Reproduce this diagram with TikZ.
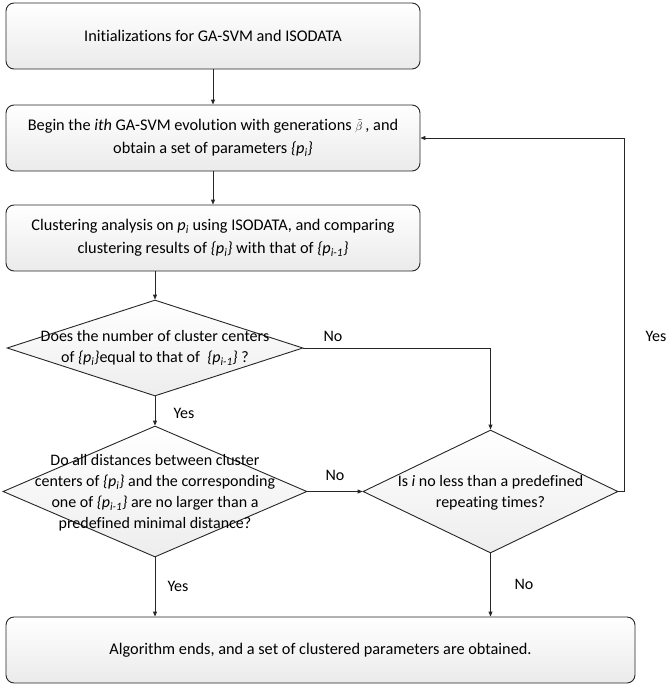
\documentclass[tikz,border=0pt]{standalone}
\usepackage{fontspec}
\setmainfont[Ligatures={NoCommon}]{Carlito}
\usetikzlibrary{shapes.geometric,arrows.meta}
\newcommand\pset[1]{\textit{\{p\textsubscript{#1}\}}}
\begin{document}
\begin{tikzpicture}[x=1pt,y=-1pt,
  box/.style={draw=black!85, line width=0.9pt, rounded corners=8pt, top color=white, bottom color=black!8,
    inner sep=0pt, align=center, font=\fontsize{16.3}{23}\selectfont},
  dia/.style={diamond, draw=black!85, line width=0.9pt, top color=white, bottom color=black!7, inner sep=0pt},
  dtxt/.style={align=center, font=\fontsize{16}{21}\selectfont, inner sep=0pt},
  lbl/.style={font=\fontsize{16}{18}\selectfont, inner sep=0pt},
  arr/.style={draw=black!85, line width=0.9pt, -{Triangle[length=5pt,width=4pt]}}
]
\useasboundingbox (0,0) rectangle (667,686);

\node[box, minimum width=414pt, minimum height=66pt] (b1) at (213,36) {Initializations for GA-SVM and ISODATA};
\node[box, minimum width=414pt, minimum height=66pt] (b2) at (213,138) {Begin the \textit{ith} GA-SVM evolution with generations {\fontsize{12}{12}\selectfont$\tilde{\beta}$}\,, and\\obtain a set of parameters \pset{i}};
\node[box, minimum width=414pt, minimum height=66pt] (b3) at (213,238) {Clustering analysis on \textit{p\textsubscript{i}} using ISODATA, and comparing\\clustering results of \pset{i} with that of \pset{i-1}};

\node[dia, minimum width=296pt, minimum height=96pt] (d1) at (155,348) {};
\node[dtxt] (d1t) at (d1.center) {Does the number of cluster centers\\of \pset{i}equal to that of~ \pset{i-1} ?};

\node[dia, minimum width=304pt, minimum height=131pt] (d2) at (155,491.5) {};
\node[dtxt] (d2t) at (155,493) {Do all distances between cluster\\centers of \pset{i} and the corresponding\\one of \pset{i-1} are no larger than a\\predefined minimal distance?};

\node[dia, minimum width=255pt, minimum height=123pt] (d3) at (490.5,491.5) {};
\node[dtxt] (d3t) at (490.5,492.5) {Is \textit{i} no less than a predefined\\repeating times?};

\node[box, minimum width=629pt, minimum height=66pt] (b4) at (320.5,650) {Algorithm ends, and a set of clustered parameters are obtained.};

\coordinate (c1) at (624,138);

\draw[arr] (b1.south) -- (b2.north);
\draw[arr] (b2.south) -- (b3.north);
\draw[arr] (b3.south -| d1.north) -- (d1.north);
\draw[arr] (d1.south) -- (d2.north);
\draw[arr] (d1.east) -| (d3.north);
\draw[arr] (d2.east) -- (d3.west);
\draw[arr] (d2.south) -- (d2.south |- b4.north);
\draw[arr] (d3.south) -- (d3.south |- b4.north);
\draw[arr] (d3.east) -| (c1) -- (b2.east);

\node[lbl] (l1) at (184,413) {Yes};
\node[lbl] (l2) at (333,336) {No};
\node[lbl] (l3) at (335,475) {No};
\node[lbl] (l4) at (656,336) {Yes};
\node[lbl] (l5) at (178,586) {Yes};
\node[lbl] (l6) at (524,584) {No};
\end{tikzpicture}
\end{document}
